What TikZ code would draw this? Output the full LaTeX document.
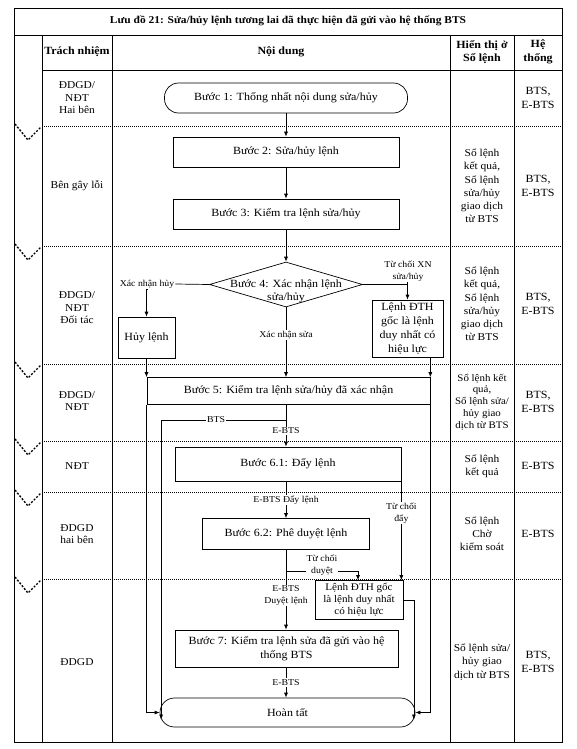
\documentclass[tikz,border=0pt]{standalone}
\usepackage{fontspec}
\setmainfont{Liberation Serif}[FakeStretch=1.09]
\usetikzlibrary{shapes.geometric,arrows.meta,calc}
\newcommand\fBox{\fontsize{11}{13.5}\selectfont}
\newcommand\fRow{\fontsize{10.5}{12.5}\selectfont}
\newcommand\fDisp{\fontsize{10.5}{13.2}\selectfont}
\newcommand\fDispS{\fontsize{10}{11.8}\selectfont}
\newcommand\fSys{\fontsize{11}{14}\selectfont}
\newcommand\fSm{\fontsize{9}{11.5}\selectfont}
\newcommand\fHdr{\fontsize{11}{13.5}\selectfont}
\newcommand\fTitle{\fontsize{10.5}{12.5}\selectfont}
\begin{document}
\begin{tikzpicture}[x=1pt,y=-1pt,
  tbl/.style={line width=0.8pt},
  rowline/.style={line width=0.6pt, dash pattern=on 1pt off 1pt},
  chev/.style={line width=1.4pt, dash pattern=on 2pt off 1.6pt},
  box/.style={draw, line width=0.7pt, inner sep=0pt, align=center, font=\fBox},
  term/.style={box, rounded corners=14pt},
  arr/.style={-{Latex[length=5pt,width=4pt]}, line width=0.7pt},
  ln/.style={line width=0.7pt},
  lbl/.style={font=\fSm, fill=white, inner sep=1pt, align=center},
  cell/.style={align=center, font=\fRow},
  disp/.style={align=center, font=\fDisp},
  sys/.style={align=center, font=\fSys},
  hdr/.style={align=center, font=\bfseries\fHdr}
]
\useasboundingbox (0,0) rectangle (576,749);
\fill[white] (0,0) rectangle (576,749);
% table frame
\draw[tbl] (14,8) rectangle (562,742);
\draw[tbl] (14,35) -- (562,35);
\draw[tbl] (42,70) -- (562,70);
\foreach \x in {42,112,450,514} \draw[tbl] (\x,35) -- (\x,742);
\foreach \y in {126,246,364,441,492,579} {
  \draw[rowline] (42,\y) -- (562,\y);
  \draw[chev] (15,\y-2) -- (28,\y+14) -- (41,\y+1);
}
% headers
\node[font=\bfseries\fTitle] (title) at (288,21) {Lưu đồ 21: Sửa/hủy lệnh tương lai đã thực hiện đã gửi vào hệ thống BTS};
\node[hdr] (h1) at (77,52) {Trách nhiệm};
\node[hdr] (h2) at (281,52) {Nội dung};
\node[hdr] (h3) at (482,52) {Hiển thị ở\\Sổ lệnh};
\node[hdr] (h4) at (538,52) {Hệ\\thống};
% responsibility column
\node[cell] (r1) at (77,98) {ĐDGD/\\NĐT\\Hai bên};
\node[cell] (r2) at (77,186) {Bên gây lỗi};
\node[cell] (r3) at (77,308) {ĐDGD/\\NĐT\\Đối tác};
\node[cell] (r4) at (77,401) {ĐDGD/\\NĐT};
\node[cell] (r5) at (77,466) {NĐT};
\node[cell] (r6) at (77,534) {ĐDGD\\hai bên};
\node[cell] (r7) at (77,662) {ĐDGD};
% display column
\node[disp] (s2) at (482,186) {Sổ lệnh\\kết quả,\\Sổ lệnh\\sửa/hủy\\giao dịch\\từ BTS};
\node[disp] (s3) at (482,304) {Sổ lệnh\\kết quả,\\Sổ lệnh\\sửa/hủy\\giao dịch\\từ BTS};
\node[disp, font=\fDispS] (s4) at (482,402) {Sổ lệnh kết\\quả,\\Sổ lệnh sửa/\\hủy giao\\dịch từ BTS};
\node[disp] (s5) at (482,466) {Sổ lệnh\\kết quả};
\node[disp] (s6) at (482,534) {Sổ lệnh\\Chờ\\kiểm soát};
\node[disp] (s7) at (482,662) {Sổ lệnh sửa/\\hủy giao\\dịch từ BTS};
% system column
\node[sys] (y1) at (538,98) {BTS,\\E-BTS};
\node[sys] (y2) at (538,186) {BTS,\\E-BTS};
\node[sys] (y3) at (538,304) {BTS,\\E-BTS};
\node[sys] (y4) at (538,402) {BTS,\\E-BTS};
\node[sys] (y5) at (538,466) {E-BTS};
\node[sys] (y6) at (538,534) {E-BTS};
\node[sys] (y7) at (538,662) {BTS,\\E-BTS};
% flow nodes
\coordinate (ax) at (286,0);
\node[term, minimum width=243pt, minimum height=30pt] (b1) at (286,98) {Bước 1: Thống nhất nội dung sửa/hủy};
\node[box, minimum width=226pt, minimum height=30pt] (b2) at (286,152) {Bước 2: Sửa/hủy lệnh};
\node[box, minimum width=226pt, minimum height=30pt] (b3) at (286,214) {Bước 3: Kiểm tra lệnh sửa/hủy};
\node[diamond, draw, line width=0.7pt, minimum width=153pt, minimum height=45pt, inner sep=0pt] (d4) at (286,284.5) {};
\node[font=\fBox, align=center, inner sep=0pt] (d4t) at (286,291.5) {Bước 4: Xác nhận lệnh\\sửa/hủy};
\node[lbl, fill=none] (xnh) at (147,284) {Xác nhận hủy};
\node[box, minimum width=57pt, minimum height=41pt] (hl) at (146.5,337.5) {Hủy lệnh};
\node[lbl, fill=none] (tcxn) at (408,271) {Từ chối XN\\sửa/hủy};
\node[box, minimum width=71pt, minimum height=57pt, font=\fontsize{11}{14}\selectfont] (ld1) at (407.5,328.5) {Lệnh ĐTH\\gốc là lệnh\\duy nhất có\\hiệu lực};
\node[box, minimum width=283pt, minimum height=27pt] (b5) at (288.5,391) {Bước 5: Kiểm tra lệnh sửa/hủy đã xác nhận};
\node[box, minimum width=226pt, minimum height=34pt] (b61) at (288,464) {Bước 6.1: Đẩy lệnh};
\node[box, minimum width=167pt, minimum height=31pt] (b62) at (286,534) {Bước 6.2: Phê duyệt lệnh};
\node[box, minimum width=88pt, minimum height=39pt, font=\fontsize{10.2}{12}\selectfont] (ld2) at (359,600) {Lệnh ĐTH gốc\\là lệnh duy nhất\\có hiệu lực};
\node[box, minimum width=223pt, minimum height=37pt] (b7) at (286.5,648.5) {Bước 7: Kiểm tra lệnh sửa đã gửi vào hệ\\thống BTS};
\node[term, minimum width=255pt, minimum height=29pt, rounded corners=14.5pt] (ht) at (287.5,712.5) {Hoàn tất};
% connectors
\draw[arr] (b1.south) -- (b2.north);
\draw[arr] (b2.south) -- (b3.north);
\draw[arr] (b3.south) -- (d4.north);
\draw[ln] (d4.west) -- (xnh.east);
\draw[arr] (xnh.south) -- (hl.north |- xnh.south) -- (hl.north);
\draw[arr] (d4.east) -| (tcxn.south -| ld1.north) -- (ld1.north);
\draw[arr] (hl.south) -- (hl.south |- b5.north);
\draw[arr] (d4.south) -- node[lbl, pos=0.4] (xns) {Xác nhận sửa} (d4.south |- b5.north);
\draw[arr] (b5.north east |- ld1.south) -- (b5.north east);
\coordinate (j1) at (286,420);
\draw[arr] (ax |- b5.south) -- node[lbl, pos=0.62] (ebts1) {E-BTS} (ax |- b61.north);
\draw[arr] (j1) -| node[lbl, pos=0.28] (bts) {BTS} ([xshift=1.5pt,yshift=-7pt]ht.west);
\draw[arr] (b5.south west) |- (ht.west);
\draw[arr] (b5.south east) |- (ht.east);
\draw[arr] (ax |- b61.south) -- node[lbl] (ebts2) {E-BTS Đẩy lệnh} (ax |- b62.north);
\draw[arr] (b61.south east) -- node[lbl, pos=0.32] (tcd) {Từ chối\\đẩy} (b61.south east |- ld2.north);
\draw[arr] (ax |- b62.south) -- node[lbl, pos=0.57] (ebts3) {E-BTS\\Duyệt lệnh} (ax |- b7.north);
\coordinate (j2) at (286,571);
\draw[arr] (j2) -| ([xshift=-1pt]ld2.north);
\node[lbl] (tcdy) at (322,565) {Từ chối\\duyệt};
\draw[arr] (ld2.east) -| ([xshift=-1.5pt,yshift=-7pt]ht.east);
\draw[arr] (ax |- b7.south) -- node[lbl] (ebts4) {E-BTS} (ax |- ht.north);
\end{tikzpicture}
\end{document}
